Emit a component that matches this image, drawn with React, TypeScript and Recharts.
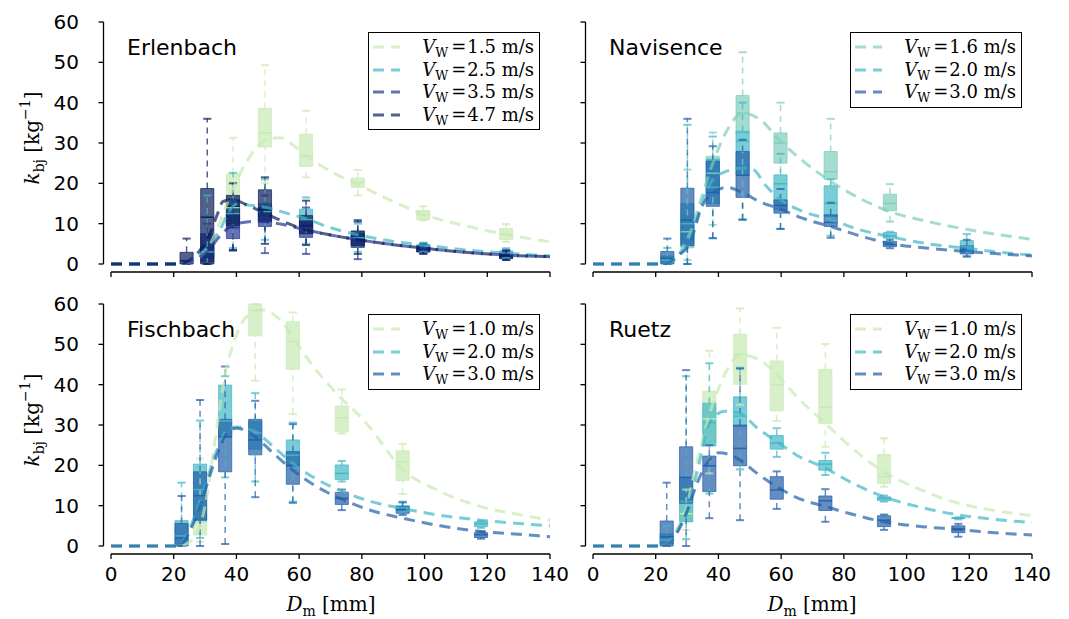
import React from "react";
import {
  ComposedChart,
  Line,
  XAxis,
  YAxis,
  ReferenceArea,
  ReferenceLine,
  Legend,
} from "recharts";

// [min, q1, median, q3, max]
type Box = [number, number, number, number, number] | null;

// YlGnBu colours
const cPale = "#c7e9b4";
const cAqua = "#7fcdbb";
const cCyan = "#41b6c4";
const cBlue = "#225ea8";
const cNavy = "#253494";
const cDark = "#081d58";

const xTicks = [0, 20, 40, 60, 80, 100, 120, 140];
const yTicks = [0, 10, 20, 30, 40, 50, 60];

// ---------- Erlenbach ----------
const erlD = [24.1, 30.7, 38.9, 49.1, 62.2, 78.7, 99.6, 126];
const erlV15Box: Box[] = [
  null,
  null,
  [3.5, 9, 14, 22.4, 31.3],
  [20, 29, 32.5, 38.6, 49.3],
  [21.5, 24.2, 26.8, 32.2, 38],
  [17, 19, 20.2, 21.3, 23.3],
  [10.8, 11, 12.2, 13.3, 14.3],
  [5.5, 6.1, 7.4, 8.8, 9.9],
];
const erlV25Box: Box[] = [
  null,
  [0, 1.5, 3, 4.2, 17],
  [4, 10, 12.5, 16, 22.6],
  [6, 11, 13, 15, 21],
  [5, 9, 11, 13.6, 16.5],
  [3, 5, 6.5, 8, 10],
  [3, 3.5, 4.3, 4.8, 5.3],
  [1.5, 2, 2.7, 3.3, 3.9],
];
const erlV35Box: Box[] = [
  null,
  [0, 0.5, 3.5, 7.5, 10],
  [3.3, 6.3, 9, 12.5, 16],
  [2.7, 9.3, 11.5, 14, 17],
  [2.5, 6.6, 8.5, 11, 14],
  [1.2, 4.1, 5.8, 7.5, 10.9],
  [2.5, 3, 3.5, 4.2, 4.8],
  [1, 1.5, 2.2, 2.8, 3.5],
];
const erlV47Box: Box[] = [
  [0, 0, 0.8, 2.9, 6.3],
  [0, 0, 11.6, 18.7, 36],
  [3.5, 9.5, 14.3, 17, 20],
  [5, 10.5, 13.5, 18.4, 21.5],
  [4.7, 7.5, 9.5, 12, 15.7],
  [2.5, 4.5, 6, 8.2, 10.5],
  [2.6, 3, 3.8, 4.5, 5],
  [1, 1.3, 2, 2.6, 3.2],
];
const erlV15Fit = [
  [0, 0], [21, 0], [24, 0.3], [28, 1.5], [31, 4], [34, 9], [37, 15], [40, 20.5],
  [43, 25], [46, 28.5], [50, 31], [54, 31.3], [58, 29.5], [62, 27], [70, 23],
  [79, 19.6], [90, 15.5], [100, 12.2], [113, 9.5], [126, 7.3], [140, 5.5],
];
const erlV25Fit = [
  [0, 0], [21, 0], [24, 0.3], [28, 2], [31.6, 5], [34.8, 8.5], [37.3, 12.6],
  [40, 14.8], [45, 14.5], [50.7, 13.8], [56, 12.6], [62, 11.3], [70, 9],
  [79, 7.2], [90, 5.6], [100, 4.7], [113, 3.5], [126, 2.7], [140, 2],
];
const erlV35Fit = [
  [0, 0], [21, 0], [24, 0.3], [28, 1.5], [31.6, 3.9], [34.8, 7], [38, 9.3],
  [42, 10.3], [46, 10.6], [50, 10.4], [54, 9.9], [62, 8.5], [70, 7.2], [79, 6],
  [90, 4.8], [100, 3.9], [113, 2.9], [126, 2.2], [140, 1.8],
];
const erlV47Fit = [
  [0, 0], [21, 0], [24, 0.5], [28, 3], [31.6, 7.6], [34, 12.5], [35.7, 15.5],
  [38.9, 15.9], [43, 14.8], [49, 12.6], [55, 10.5], [62, 8.5], [70, 7.2],
  [79, 6], [90, 4.8], [100, 3.9], [113, 2.9], [126, 2.2], [140, 1.8],
];

// ---------- Navisence ----------
const navD = [23.7, 30.1, 38.2, 47.7, 59.8, 75.8, 94.7, 119.2];
const navV16Box: Box[] = [
  null,
  [1, 4, 8, 12, 23.4],
  [9.7, 17, 22.5, 26.7, 32.6],
  [11, 32.5, 37.4, 41.8, 52.5],
  [20, 25, 30, 32.5, 40],
  [19, 21, 22.9, 27.9, 36],
  [10.5, 13.2, 15, 17.3, 19.8],
  null,
];
const navV20Box: Box[] = [
  [0, 0.3, 1, 2, 4],
  [0, 5, 10, 15, 34.5],
  [6.4, 15, 19, 26, 31.6],
  [11, 22, 30.5, 32.9, 40],
  [8.7, 13.4, 19.9, 22.1, 27.3],
  [7, 11.8, 15, 19.4, 21],
  [5.5, 6.4, 7, 7.8, 8],
  [2, 3, 4.3, 5.8, 7.4],
];
const navV30Box: Box[] = [
  [0, 0, 1.4, 3.1, 6.3],
  [0, 4.5, 10.9, 18.8, 36],
  [6.4, 14.3, 17.7, 25.5, 29.2],
  [11, 16.5, 22, 27.9, 30.8],
  [8.7, 12.6, 14.5, 15.9, 18.6],
  [6.5, 9.3, 10.3, 12.2, 15.2],
  [3.9, 4.3, 4.8, 5.6, 6],
  [1.8, 2.5, 3.5, 4.5, 6],
];
const navV16Fit = [
  [0, 0], [22, 0], [24, 0.3], [26.7, 1.4], [28.5, 4], [30.9, 7.6], [34.7, 16.7],
  [38.2, 25], [42.6, 32.9], [47.7, 37.4], [53.3, 35.8], [59.8, 30.4], [67, 25.5],
  [75.8, 20.5], [85, 16.3], [94.7, 13], [107, 10.5], [119, 8.6], [130, 7.2], [140, 6.1],
];
const navV20Fit = [
  [0, 0], [22, 0], [24, 0.3], [27, 2], [30.9, 6], [34.7, 15], [38.2, 20.9],
  [42.6, 23], [47.7, 23.8], [51.1, 23.4], [55, 19.5], [59.8, 16], [67, 13],
  [75.8, 11], [85, 8.5], [94.7, 6.8], [107, 5], [119, 3.9], [130, 2.9], [140, 2.2],
];
const navV30Fit = [
  [0, 0], [22, 0], [24, 0.3], [27, 2], [30.9, 5.1], [34.7, 14.2], [38.2, 17.6],
  [42.6, 19], [47.7, 17.7], [53, 15.5], [59.8, 13.6], [67, 11.3], [75.8, 9.3],
  [85, 7], [94.7, 5.1], [107, 3.9], [119, 3.1], [130, 2.5], [140, 2],
];

// ---------- Fischbach ----------
const fisD = [22.5, 28.4, 36.4, 46, 58, 73.6, 93, 118];
const fisV10Box: Box[] = [
  null,
  [1, 2.7, 6, 9.8, 21.7],
  null,
  [41, 52.1, 58.5, 60, 60],
  [32.7, 43.8, 50.7, 55.6, 57.9],
  [27.9, 28.3, 31.8, 34.7, 38.8],
  [12.9, 16.2, 20.9, 23.6, 25.3],
  null,
];
const fisV20Box: Box[] = [
  [0, 0.5, 2.5, 6.3, 15.7],
  [2, 6, 14, 20.3, 31.1],
  [17, 27, 31, 39.9, 42.1],
  [16, 24, 28, 31, 37.9],
  [11, 19.7, 22.5, 26.3, 30.6],
  [16, 16.5, 18, 20.1, 21.1],
  [8.5, 9, 9.5, 10, 11],
  [4.5, 4.8, 5.5, 6, 6.2],
];
const fisV30Box: Box[] = [
  [0, 0, 2, 5.6, 12.4],
  [0, 6.4, 12.5, 18.4, 36.2],
  [0.5, 18.4, 27.1, 31.4, 44.5],
  [12.1, 22.6, 26.3, 31.4, 36],
  [10.7, 15.3, 20, 23.4, 30.2],
  [8.9, 10.3, 11.8, 13.3, 14],
  [7.7, 8.1, 9, 9.8, 10.8],
  [1.8, 2.1, 2.8, 3.3, 3.6],
];
const fisV10Fit = [
  [0, 0], [22, 0], [25, 1], [28.4, 5], [30.5, 12], [32.6, 23], [35, 36],
  [36.9, 44.5], [39, 50], [41.1, 54.4], [44, 57.3], [48.6, 58.5], [54, 56],
  [60.3, 49], [65, 44], [70.9, 38.7], [81.5, 30.4], [93, 19], [105, 13.5],
  [117.7, 9.8], [130, 7.8], [140, 6.4],
];
const fisV20Fit = [
  [0, 0], [21, 0], [24, 2.5], [26.5, 7], [28.4, 11], [30.5, 16], [32.6, 21.3],
  [35, 26], [36.9, 28.8], [40, 29.5], [43, 29.2], [46, 28.3], [52, 24.5],
  [58, 20.5], [65, 16.8], [73.6, 13.6], [83, 11], [93, 9.3], [105, 7.6],
  [118, 6.4], [130, 5.6], [140, 5],
];
const fisV30Fit = [
  [0, 0], [21, 0], [24, 2], [26.5, 6], [28.4, 10], [30.5, 15], [32.6, 20],
  [35, 25], [36.9, 27.9], [40, 29.2], [43, 28.6], [46, 27.1], [52, 22.8],
  [58, 18.8], [65, 15], [73.6, 11.6], [83, 8.8], [93, 6.9], [105, 5],
  [118, 3.6], [130, 2.9], [140, 2.3],
];

// ---------- Ruetz ----------
const rueD = [23.5, 29.7, 37.1, 46.9, 58.6, 74.1, 92.8, 116.5];
const rueV10Box: Box[] = [
  null,
  [4, 6, 8, 10.6, 14],
  [18, 25.5, 31.5, 38.4, 48.4],
  [35, 40.1, 47.5, 52.5, 58.9],
  [31, 33.5, 40, 45.9, 54.1],
  [24.6, 30.4, 34.4, 43.8, 50.1],
  [14.7, 15.5, 17.2, 22.7, 26.7],
  null,
];
const rueV20Box: Box[] = [
  [0, 0.5, 1.5, 3, 5],
  [1.7, 6, 11, 17, 42.1],
  [13, 24.8, 30.6, 35.4, 45.3],
  [19, 29.6, 32.2, 37, 44.2],
  [22.1, 24, 25.5, 27.4, 29.2],
  [17.6, 18.8, 20.3, 21.2, 23.1],
  [11, 11.3, 11.8, 12.2, 12.5],
  [6.6, 6.8, 6.9, 7, 7.1],
];
const rueV30Box: Box[] = [
  [0, 0, 2.3, 6.2, 15.7],
  [0, 10.6, 17, 24.6, 43.6],
  [6.9, 13.5, 19.9, 22.3, 25],
  [6.4, 19.9, 24.2, 30, 44],
  [9.2, 11.6, 13.9, 17.2, 18.5],
  [6, 8.8, 11.2, 12.4, 14.1],
  [4, 4.8, 6.4, 7.5, 7.8],
  [2.3, 3.3, 4.2, 5, 5.5],
];
const rueV10Fit = [
  [0, 0], [22, 0], [24, 0.5], [27.7, 5.6], [30, 10], [32, 17.2], [34, 23.5],
  [36.3, 30.4], [40, 39], [43, 44], [46.9, 47.4], [52, 46.5], [56, 44.5],
  [58.6, 42.5], [65, 37], [74.1, 30.4], [83, 24], [92.8, 18.4], [105, 13.8],
  [116.5, 10.6], [128, 8.8], [140, 7.5],
];
const rueV20Fit = [
  [0, 0], [22, 0], [24, 0.5], [27.7, 5], [30, 9], [32, 14.7], [34, 21],
  [36.3, 28.8], [39, 32.3], [42, 33.4], [46.9, 32.9], [52, 29.5], [58.6, 25.9],
  [65, 22.5], [74.1, 19.3], [83, 15.5], [92.8, 12.2], [105, 9.5], [116.5, 7.7],
  [128, 6.6], [140, 5.8],
];
const rueV30Fit = [
  [0, 0], [22, 0], [24, 0.5], [27.7, 4.5], [30, 8.5], [32, 13], [34, 17],
  [36.3, 20.5], [40, 23.1], [43, 22.8], [46.9, 21.3], [52, 18.2], [58.6, 14.7],
  [65, 12], [74.1, 9.8], [83, 7.8], [92.8, 6], [105, 4.8], [116.5, 4.1],
  [128, 3.3], [140, 2.7],
];

interface Series {
  label: string;
  color: string;
  boxes: Box[];
  fit: number[][];
}

const erlSeries: Series[] = [
  { label: "1.5", color: cPale, boxes: erlV15Box, fit: erlV15Fit },
  { label: "2.5", color: cCyan, boxes: erlV25Box, fit: erlV25Fit },
  { label: "3.5", color: cNavy, boxes: erlV35Box, fit: erlV35Fit },
  { label: "4.7", color: cDark, boxes: erlV47Box, fit: erlV47Fit },
];
const navSeries: Series[] = [
  { label: "1.6", color: cAqua, boxes: navV16Box, fit: navV16Fit },
  { label: "2.0", color: cCyan, boxes: navV20Box, fit: navV20Fit },
  { label: "3.0", color: cBlue, boxes: navV30Box, fit: navV30Fit },
];
const fisSeries: Series[] = [
  { label: "1.0", color: cPale, boxes: fisV10Box, fit: fisV10Fit },
  { label: "2.0", color: cCyan, boxes: fisV20Box, fit: fisV20Fit },
  { label: "3.0", color: cBlue, boxes: fisV30Box, fit: fisV30Fit },
];
const rueSeries: Series[] = [
  { label: "1.0", color: cPale, boxes: rueV10Box, fit: rueV10Fit },
  { label: "2.0", color: cCyan, boxes: rueV20Box, fit: rueV20Fit },
  { label: "3.0", color: cBlue, boxes: rueV30Box, fit: rueV30Fit },
];

const ALPHA = 0.7;
const HALF_BOX = 2.1;
const HALF_CAP = 1.3;
const mathFont = "'DejaVu Serif', serif";
const sansFont = "'DejaVu Sans', sans-serif";

// matplotlib-style detached spines: offset from the plot edge, in data units
const PLOT_W = 439;
const PLOT_H = 242;
const UX = 140 / PLOT_W; // x units per pixel
const UY = 60 / PLOT_H; // y units per pixel
const SPINE_Y = -8 * UY;
const SPINE_X = -7.5 * UX;
const TICK = 5;

const spine = { stroke: "#000", strokeWidth: 1.3, ifOverflow: "visible" as const };

const renderSpines = (id: string) => [
  <ReferenceLine
    key={`${id}-sx`}
    segment={[{ x: 0, y: SPINE_Y }, { x: 140, y: SPINE_Y }]}
    {...spine}
  />,
  <ReferenceLine
    key={`${id}-sy`}
    segment={[{ x: SPINE_X, y: 0 }, { x: SPINE_X, y: 60 }]}
    {...spine}
  />,
  ...xTicks.map((t) => (
    <ReferenceLine
      key={`${id}-tx${t}`}
      segment={[{ x: t, y: SPINE_Y }, { x: t, y: SPINE_Y - TICK * UY }]}
      {...spine}
    />
  )),
  ...yTicks.map((t) => (
    <ReferenceLine
      key={`${id}-ty${t}`}
      segment={[{ x: SPINE_X, y: t }, { x: SPINE_X - TICK * UX, y: t }]}
      {...spine}
    />
  )),
];

const renderBoxes = (s: Series, d: number[], key: string) =>
  s.boxes.flatMap((b, i) => {
    if (!b) return [];
    const x = d[i];
    const [mn, q1, md, q3, mx] = b;
    const k = `${key}-${i}`;
    const whisker = {
      stroke: s.color,
      strokeOpacity: ALPHA,
      strokeWidth: 1.5,
      strokeDasharray: "6 5",
    };
    const cap = { stroke: s.color, strokeOpacity: ALPHA, strokeWidth: 2 };
    return [
      <ReferenceLine key={`${k}-wu`} segment={[{ x, y: q3 }, { x, y: mx }]} {...whisker} />,
      <ReferenceLine key={`${k}-wl`} segment={[{ x, y: mn }, { x, y: q1 }]} {...whisker} />,
      <ReferenceLine
        key={`${k}-cu`}
        segment={[{ x: x - HALF_CAP, y: mx }, { x: x + HALF_CAP, y: mx }]}
        {...cap}
      />,
      <ReferenceLine
        key={`${k}-cl`}
        segment={[{ x: x - HALF_CAP, y: mn }, { x: x + HALF_CAP, y: mn }]}
        {...cap}
      />,
      <ReferenceArea
        key={`${k}-b`}
        x1={x - HALF_BOX}
        x2={x + HALF_BOX}
        y1={q1}
        y2={q3}
        fill={s.color}
        fillOpacity={ALPHA}
        stroke={s.color}
        strokeOpacity={ALPHA}
        strokeWidth={1}
      />,
      <ReferenceLine
        key={`${k}-m`}
        segment={[{ x: x - HALF_BOX, y: md }, { x: x + HALF_BOX, y: md }]}
        stroke={s.color}
        strokeOpacity={0.9}
        strokeWidth={1.5}
      />,
    ];
  });

const LegendBox = ({ series }: { series: Series[] }) => (
  <div
    style={{
      border: "1.3px solid #000",
      background: "#fff",
      width: 172,
      boxSizing: "border-box",
      padding: "3px 0",
    }}
  >
    {series.map((s) => (
      <div
        key={s.label}
        style={{ display: "flex", alignItems: "center", height: 22.6 }}
      >
        <svg width={27} height={6} style={{ marginLeft: 4 }}>
          <line
            x1={0}
            y1={3}
            x2={27}
            y2={3}
            stroke={s.color}
            strokeOpacity={ALPHA}
            strokeWidth={3}
            strokeDasharray="11 7"
          />
        </svg>
        <span
          style={{
            marginLeft: "auto",
            marginRight: 5,
            fontFamily: mathFont,
            fontSize: 18,
            lineHeight: 1,
            whiteSpace: "nowrap",
            color: "#000",
          }}
        >
          <i>V</i>
          <span style={{ fontSize: "0.7em", position: "relative", top: "0.3em" }}>
            W
          </span>
          <span style={{ margin: "0 1px 0 3px" }}>=</span>
          {s.label} m/s
        </span>
      </div>
    ))}
  </div>
);

interface PanelProps {
  series: Series[];
  d: number[];
  left: number;
  top: number;
  height: number;
  marginTop: number;
  marginBottom: number;
  showX: boolean;
  showY: boolean;
  legendTop: number;
  id: string;
}

const tickStyle = { fontSize: 20, fill: "#000", fontFamily: sansFont };

const Panel = ({
  series,
  d,
  left,
  top,
  height,
  marginTop,
  marginBottom,
  showX,
  showY,
  legendTop,
  id,
}: PanelProps) => (
  <div style={{ position: "absolute", left, top }}>
    <ComposedChart
      width={580}
      height={height}
      margin={{ top: marginTop, right: 30, bottom: marginBottom, left: 43.5 }}
    >
      <XAxis
        type="number"
        dataKey="d"
        domain={[0, 140]}
        ticks={xTicks}
        interval={0}
        height={showX ? 40 : 10}
        axisLine={false}
        tickLine={false}
        tickSize={0}
        tickMargin={21}
        tick={showX ? tickStyle : false}
      />
      <YAxis
        type="number"
        domain={[0, 60]}
        ticks={yTicks}
        interval={0}
        width={67.5}
        axisLine={false}
        tickLine={false}
        tickSize={0}
        tickMargin={32}
        tick={showY ? tickStyle : false}
      />
      {renderSpines(id)}
      {series.flatMap((s, si) => renderBoxes(s, d, `${id}-${si}`))}
      {series.map((s) => (
        <Line
          key={`${id}-fit-${s.label}`}
          data={s.fit.map(([x, k]) => ({ d: x, k }))}
          dataKey="k"
          type="monotone"
          stroke={s.color}
          strokeOpacity={ALPHA}
          strokeWidth={3}
          strokeDasharray="11 7"
          dot={false}
          activeDot={false}
          isAnimationActive={false}
        />
      ))}
      <Legend
        layout="horizontal"
        verticalAlign="middle"
        align="center"
        wrapperStyle={{ left: 368, top: legendTop, width: 172, height: "auto" }}
        content={() => <LegendBox series={series} />}
      />
    </ComposedChart>
  </div>
);

const YLabel = ({ cy }: { cy: number }) => (
  <text
    transform={`translate(39,${cy}) rotate(-90)`}
    textAnchor="middle"
    fontFamily={mathFont}
    fontSize={20}
    fill="#000"
  >
    <tspan fontStyle="italic">k</tspan>
    <tspan dy={5} fontSize={14}>
      bj
    </tspan>
    <tspan dy={-5}> [kg</tspan>
    <tspan dy={-9} fontSize={14}>
      −1
    </tspan>
    <tspan dy={9}>]</tspan>
  </text>
);

const XLabel = ({ cx }: { cx: number }) => (
  <text x={cx} y={611} textAnchor="middle" fontFamily={mathFont} fontSize={20} fill="#000">
    <tspan fontStyle="italic">D</tspan>
    <tspan dy={5} fontSize={14}>
      m
    </tspan>
    <tspan dy={-5}> [mm]</tspan>
  </text>
);

export default function App() {
  return (
    <div
      style={{
        position: "absolute",
        left: 0,
        top: 0,
        width: 1069,
        height: 619,
        background: "#fff",
        fontFamily: sansFont,
        overflow: "hidden",
      }}
    >
      <Panel id="erl" series={erlSeries} d={erlD} left={0} top={0} height={290}
        marginTop={22} marginBottom={16} showX={false} showY legendTop={32} />
      <Panel id="nav" series={navSeries} d={navD} left={482} top={0} height={290}
        marginTop={22} marginBottom={16} showX={false} showY={false} legendTop={32} />
      <Panel id="fis" series={fisSeries} d={fisD} left={0} top={280} height={339}
        marginTop={24} marginBottom={33} showX showY legendTop={34} />
      <Panel id="rue" series={rueSeries} d={rueD} left={482} top={280} height={339}
        marginTop={24} marginBottom={33} showX showY={false} legendTop={34} />
      <svg
        width={1069}
        height={619}
        style={{ position: "absolute", left: 0, top: 0, pointerEvents: "none" }}
      >
        <text x={127} y={54.5} fontFamily={sansFont} fontSize={22} fill="#000">Erlenbach</text>
        <text x={609} y={54.5} fontFamily={sansFont} fontSize={22} fill="#000">Navisence</text>
        <text x={127} y={337} fontFamily={sansFont} fontSize={22} fill="#000">Fischbach</text>
        <text x={609} y={337} fontFamily={sansFont} fontSize={22} fill="#000">Ruetz</text>
        <YLabel cy={138} />
        <YLabel cy={420} />
        <XLabel cx={331} />
        <XLabel cx={812} />
      </svg>
    </div>
  );
}
